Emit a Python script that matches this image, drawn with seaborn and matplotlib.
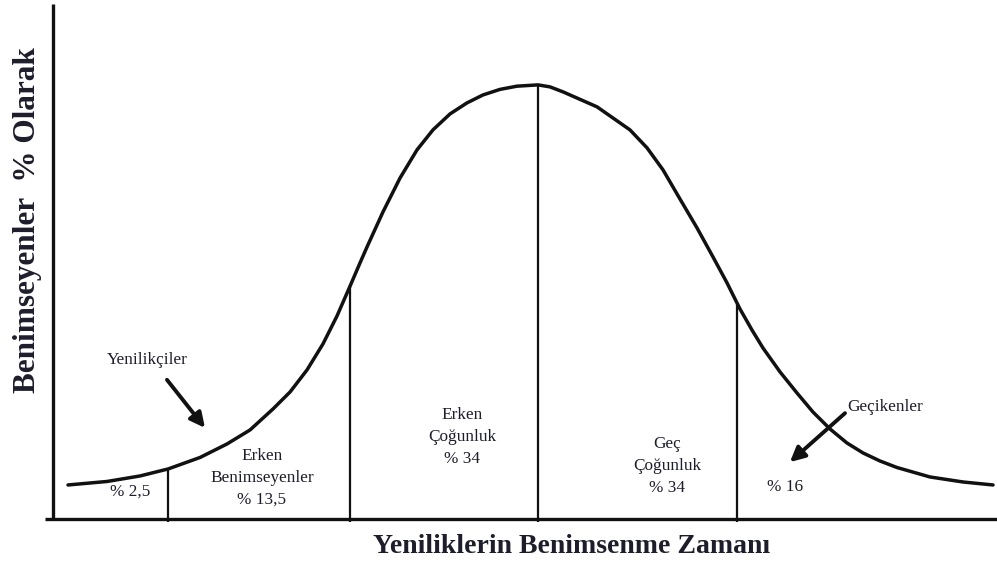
import numpy as np
import pandas as pd
import matplotlib
matplotlib.use("Agg")
import matplotlib.pyplot as plt
import seaborn as sns

# Adoption curve: time (in standard deviations from the mean) vs relative share of adopters
curve_x = [-2.474, -2.268, -2.095, -1.947, -1.779, -1.637, -1.516, -1.395, -1.305, -1.216,
           -1.132, -1.058, -0.989, -0.937, -0.900, -0.816, -0.726, -0.637, -0.553, -0.463,
           -0.374, -0.289, -0.200, -0.111, 0.000, 0.063, 0.132, 0.311, 0.484, 0.574,
           0.658, 0.747, 0.837, 0.921, 0.995, 1.063, 1.126, 1.184, 1.274, 1.363,
           1.447, 1.537, 1.626, 1.711, 1.800, 1.889, 2.063, 2.237, 2.395]
curve_y = [7.62, 8.43, 9.70, 11.32, 13.97, 17.09, 20.32, 25.17, 29.10, 34.18,
           40.18, 46.65, 53.58, 58.89, 62.59, 70.67, 78.52, 84.99, 89.61, 93.30,
           95.84, 97.69, 98.96, 99.70, 100.00, 99.54, 98.38, 94.92, 89.61, 85.45,
           80.37, 73.67, 66.97, 60.28, 54.27, 48.27, 43.42, 39.26, 33.72, 28.87,
           24.48, 20.55, 17.32, 15.01, 13.16, 11.66, 9.47, 8.31, 7.62]

# Boundaries between adopter categories
divider_x = [-1.95, -0.99, 0.00, 1.05]

# Adopter categories and their shares (%)
categories = ["Yenilikçiler", "Erken\nBenimseyenler", "Erken\nÇoğunluk", "Geç\nÇoğunluk", "Geçikenler"]
shares = [2.5, 13.5, 34, 34, 16]

x_title = "Yeniliklerin Benimsenme Zamanı"
y_title = "Benimseyenler  % Olarak"

sns.set_theme(style="white")
plt.rcParams["font.family"] = ["Liberation Serif", "DejaVu Serif"]

fig = plt.figure(figsize=(9.97, 5.66), dpi=100)
ax = fig.add_axes([0, 0, 1, 1])
ax.set_xlim(-2.832, 2.416)
ax.set_ylim(-11.09, 119.6)
ax.axis("off")

ink = "#111111"
txt = "#1d1d2b"

curve = pd.DataFrame({"t": curve_x, "pct": curve_y})
sns.lineplot(data=curve, x="t", y="pct", ax=ax, color=ink, lw=2.5,
             estimator=None, sort=False, legend=False,
             solid_joinstyle="round", solid_capstyle="round")

# Axes drawn as plain lines
ax.plot([-2.595, 2.416], [-0.3, -0.3], color=ink, lw=2.4, solid_capstyle="butt")
ax.plot([-2.553, -2.553], [-0.5, 118.7], color=ink, lw=2.4, solid_capstyle="butt")

# Category dividers reaching up to the curve
for dx in divider_x:
    top = float(np.interp(dx, curve_x, curve_y))
    ax.plot([dx, dx], [-0.9, top], color=ink, lw=1.6, solid_capstyle="butt")

def pct(v):
    s = f"{v:g}".replace(".", ",")
    return f"% {s}"

fs = 12.4
ls = 1.5
# Shares inside the segments
ax.text(-2.147, 6.0, pct(shares[0]), ha="center", va="center", fontsize=fs, color=txt)
ax.text(-1.453, 9.3, f"{categories[1]}\n{pct(shares[1])}", ha="center", va="center",
        fontsize=fs, color=txt, linespacing=ls)
ax.text(-0.40, 18.6, f"{categories[2]}\n{pct(shares[2])}", ha="center", va="center",
        fontsize=fs, color=txt, linespacing=ls)
ax.text(0.68, 12.0, f"{categories[3]}\n{pct(shares[3])}", ha="center", va="center",
        fontsize=fs, color=txt, linespacing=ls)
ax.text(1.30, 7.2, pct(shares[4]), ha="center", va="center", fontsize=fs, color=txt)

# Tail groups labelled with arrows
arrow = dict(arrowstyle="-|>", lw=2.8, color=ink, mutation_scale=22, shrinkA=0, shrinkB=0)
ax.text(-2.058, 36.5, categories[0], ha="center", va="center", fontsize=fs, color=txt)
ax.annotate("", xy=(-1.753, 20.8), xytext=(-1.953, 31.9), arrowprops=arrow)
ax.text(1.826, 25.6, categories[4], ha="center", va="center", fontsize=fs, color=txt)
ax.annotate("", xy=(1.326, 12.9), xytext=(1.616, 24.2), arrowprops=arrow)

# Axis titles
ax.text(0.179, -6.7, x_title, ha="center", va="center", fontsize=20,
        fontweight="bold", color=txt)
ax.text(-2.689, 68.8, y_title, ha="center", va="center", fontsize=22.5,
        fontweight="bold", color=txt, rotation=90)

fig.savefig("out.png", dpi=100)
